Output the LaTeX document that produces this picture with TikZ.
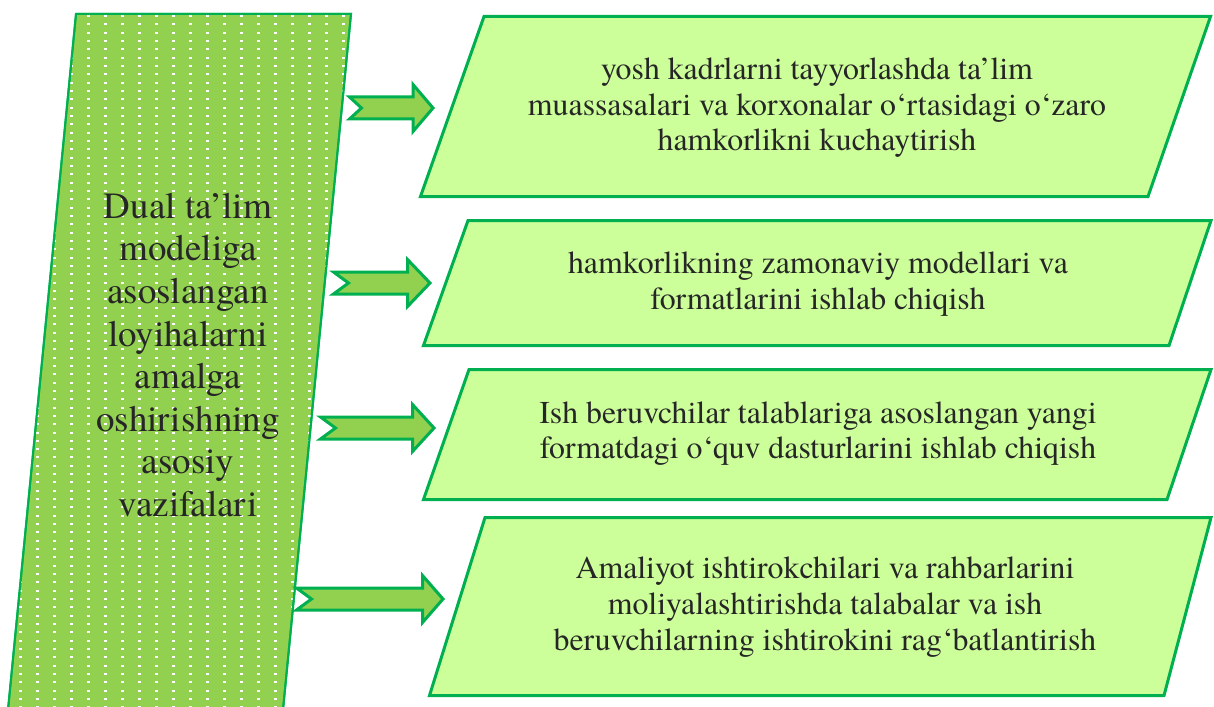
\documentclass[tikz,border=0pt]{standalone}
\usepackage{fontspec}
\IfFontExistsTF{texgyretermes-regular.otf}{\setmainfont{texgyretermes-regular.otf}}{\setmainfont{Liberation Serif}}
\definecolor{leafgreen}{HTML}{92D050}
\definecolor{edgegreen}{HTML}{00B050}
\definecolor{palegreen}{HTML}{CCFF99}
\definecolor{inkgray}{HTML}{262626}
\tikzset{
  mainshape/.style={fill=leafgreen, draw=edgegreen, line width=2pt, line join=miter},
  taskshape/.style={fill=palegreen, draw=edgegreen, line width=3pt, line join=miter},
  blockarrow/.style={fill=leafgreen, draw=edgegreen, line width=3pt, line join=miter},
  lefttext/.style={text=inkgray, align=center, inner sep=0pt, font=\fontsize{37}{42.6}\selectfont},
  righttext/.style={text=inkgray, align=center, inner sep=0pt, font=\fontsize{31.8}{35.6}\selectfont},
}
\newcommand\greenarrow[5]{%
  \draw[blockarrow] (#1,#5-11) -- (#3,#5-11) -- (#3,#5-23.5) -- (#4,#5) -- (#3,#5+23.5) -- (#3,#5+11) -- (#1,#5+11) -- (#1+#2,#5) -- cycle;}
\begin{document}
\begin{tikzpicture}[x=1pt,y=-1pt]
\useasboundingbox (0,0) rectangle (1214,706);
\begin{scope}
\clip (0,0) rectangle (1214,706);
% main parallelogram
\draw[mainshape] (76,14) -- (351,14) -- (282,720) -- (7,720) -- cycle;
\begin{scope}
\clip (76,14) -- (351,14) -- (282,720) -- (7,720) -- cycle;
\foreach \i in {0,...,20}{
  \foreach \j in {0,...,83}{
    \fill[white] ({3+17*\i-1.5},{16+8.33*\j-1}) rectangle ++(3,2);
  }
}
\end{scope}
\draw[edgegreen, line width=2pt] (76,14) -- (351,14) -- (282,720) (7,720) -- (76,14);
\end{scope}
\node[lefttext] (title) at (188,355) {Dual ta’lim\\modeliga\\asoslangan\\loyihalarni\\amalga\\oshirishning\\asosiy\\vazifalari};

% task parallelograms
\draw[taskshape] (484,16.5) -- (1210.5,16.5) -- (1148,196.5) -- (420.5,196.5) -- cycle;
\draw[taskshape] (468,220.5) -- (1211,220.5) -- (1169,345.5) -- (423.5,345.5) -- cycle;
\draw[taskshape] (469,369.5) -- (1211,369.5) -- (1167,499.5) -- (423.5,499.5) -- cycle;
\draw[taskshape] (485,517.5) -- (1211,517.5) -- (1164,695.5) -- (429.5,695.5) -- cycle;

\node[righttext] (t1) at (817,108) {yosh kadrlarni tayyorlashda ta’lim\\muassasalari va korxonalar o‘rtasidagi o‘zaro\\hamkorlikni kuchaytirish};
\node[righttext] (t2) at (818,284) {hamkorlikning zamonaviy modellari va\\formatlarini ishlab chiqish};
\node[righttext] (t3) at (818,433.5) {Ish beruvchilar talablariga asoslangan yangi\\formatdagi o‘quv dasturlarini ishlab chiqish};
\node[righttext] (t4) at (825,607) {Amaliyot ishtirokchilari va rahbarlarini\\moliyalashtirishda talabalar va ish\\beruvchilarning ishtirokini rag‘batlantirish};

% block arrows
\greenarrow{349.5}{12}{413}{433}{108}
\greenarrow{333.5}{15}{407.5}{430}{283}
\greenarrow{320.5}{15}{412.5}{434}{428}
\greenarrow{296.5}{15}{422.5}{443}{599}
\end{tikzpicture}
\end{document}
